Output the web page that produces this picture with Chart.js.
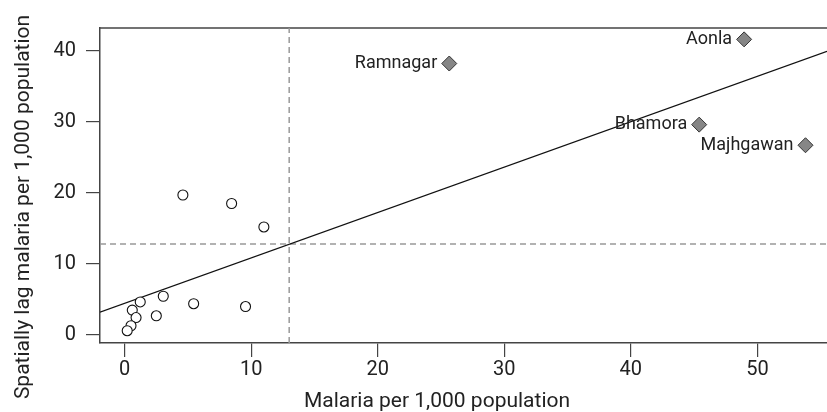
<!DOCTYPE html>
<html>
<head>
<meta charset="utf-8">
<script src="https://cdn.jsdelivr.net/npm/chart.js@4/dist/chart.umd.min.js"></script>
<style>
  html, body { margin: 0; padding: 0; background: #fff; }
  #wrap { width: 827px; height: 412px; }
</style>
</head>
<body>
<div id="wrap"><canvas id="myChart" width="827" height="412"></canvas></div>
<script>
// villages with low malaria (open circles)
const villageX = [4.6, 8.45, 11.0, 3.05, 1.23, 0.6, 0.9, 2.5, 5.45, 9.55, 0.5, 0.2];
const villageY = [19.7, 18.5, 15.2, 5.45, 4.65, 3.5, 2.45, 2.7, 4.4, 4.0, 1.3, 0.6];

// labelled hotspot villages (grey diamonds)
const hotspotNames = ['Ramnagar', 'Aonla', 'Bhamora', 'Majhgawan'];
const hotspotX = [25.65, 48.95, 45.4, 53.8];
const hotspotY = [38.2, 41.6, 29.6, 26.7];

// fitted line and means
const fitIntercept = 4.45;
const fitSlope = 0.639;
const meanX = 13.0;
const meanY = 12.8;

const xTicks = [0, 10, 20, 30, 40, 50];
const yTicks = [0, 10, 20, 30, 40];
const xMin = -1.95, xMax = 55.5;
const yMin = -1.13, yMax = 43.2;

const xTitle = 'Malaria per 1,000 population';
const yTitle = 'Spatially lag malaria per 1,000 population';

const textColor = '#222';
const axisColor = '#444';
Chart.defaults.font.family = 'Roboto';
Chart.defaults.color = textColor;

const labelPlugin = {
    id: 'labels',
    beforeDatasetsDraw(chart) {
        // top edge of the box
        const a = chart.chartArea;
        const c = chart.ctx;
        c.save();
        c.strokeStyle = axisColor;
        c.lineWidth = 1.5;
        c.beginPath();
        c.moveTo(a.left, a.top);
        c.lineTo(a.right, a.top);
        c.stroke();
        c.restore();
    },
    afterDatasetsDraw(chart) {
        const c = chart.ctx;
        const xs = chart.scales.x, ys = chart.scales.y;
        c.save();
        c.fillStyle = textColor;
        c.font = '18px Roboto';
        c.textAlign = 'right';
        c.textBaseline = 'middle';
        hotspotNames.forEach((name, i) => {
            c.fillText(name, xs.getPixelForValue(hotspotX[i]) - 12, ys.getPixelForValue(hotspotY[i]));
        });

        // axis titles (centred on the whole figure, like the original)
        c.font = '21px Roboto';
        c.textAlign = 'center';
        c.textBaseline = 'alphabetic';
        c.fillText(xTitle, 437, 407);
        c.translate(28.5, 207);
        c.rotate(-Math.PI / 2);
        c.fillText(yTitle, 0, 0);
        c.restore();
    }
};

const ctx = document.getElementById('myChart');

new Chart(ctx, {
    type: 'scatter',
    data: {
        datasets: [
            {
                label: 'villages',
                data: villageX.map((x, i) => ({ x: x, y: villageY[i] })),
                pointStyle: 'circle',
                pointRadius: 5,
                pointBackgroundColor: '#fff',
                pointBorderColor: '#111',
                pointBorderWidth: 1.1,
                order: 0
            },
            {
                label: 'hotspots',
                data: hotspotX.map((x, i) => ({ x: x, y: hotspotY[i] })),
                pointStyle: 'rectRot',
                pointRadius: 7.5,
                pointBackgroundColor: '#868686',
                pointBorderColor: '#333',
                pointBorderWidth: 1,
                order: 0
            },
            {
                type: 'line',
                label: 'fit',
                data: [xMin, xMax].map(x => ({ x: x, y: fitIntercept + fitSlope * x })),
                borderColor: '#111',
                borderWidth: 1.2,
                pointRadius: 0,
                order: 1
            },
            {
                type: 'line',
                label: 'mean x',
                data: [{ x: meanX, y: yMin }, { x: meanX, y: yMax }],
                borderColor: '#999',
                borderWidth: 1.5,
                borderDash: [6, 4],
                pointRadius: 0,
                order: 2
            },
            {
                type: 'line',
                label: 'mean y',
                data: [{ x: xMin, y: meanY }, { x: xMax, y: meanY }],
                borderColor: '#999',
                borderWidth: 1.5,
                borderDash: [6, 4],
                pointRadius: 0,
                order: 2
            }
        ]
    },
    options: {
        responsive: false,
        animation: false,
        layout: { autoPadding: false, padding: { top: 28, right: 0, left: 0, bottom: 0 } },
        plugins: { legend: { display: false }, tooltip: { enabled: false } },
        scales: {
            x: {
                type: 'linear',
                min: xMin,
                max: xMax,
                afterFit: s => { s.height = 69; s.paddingLeft = 0; s.paddingRight = 0; },
                afterBuildTicks: s => { s.ticks = xTicks.map(v => ({ value: v })); },
                ticks: { font: { size: 20 }, padding: 1, color: textColor, maxRotation: 0 },
                grid: { drawOnChartArea: false, tickLength: 14, color: axisColor, lineWidth: 1.2 },
                border: { display: true, color: axisColor, width: 1.5 }
            },
            y: {
                type: 'linear',
                min: yMin,
                max: yMax,
                afterFit: s => { s.width = 100; s.paddingTop = 0; s.paddingBottom = 0; },
                afterBuildTicks: s => { s.ticks = yTicks.map(v => ({ value: v })); },
                ticks: { font: { size: 20 }, padding: 10, color: textColor },
                grid: { drawOnChartArea: false, tickLength: 14, color: axisColor, lineWidth: 1.2 },
                border: { display: true, color: axisColor, width: 1.5 }
            }
        }
    },
    plugins: [labelPlugin]
});
</script>
</body>
</html>
